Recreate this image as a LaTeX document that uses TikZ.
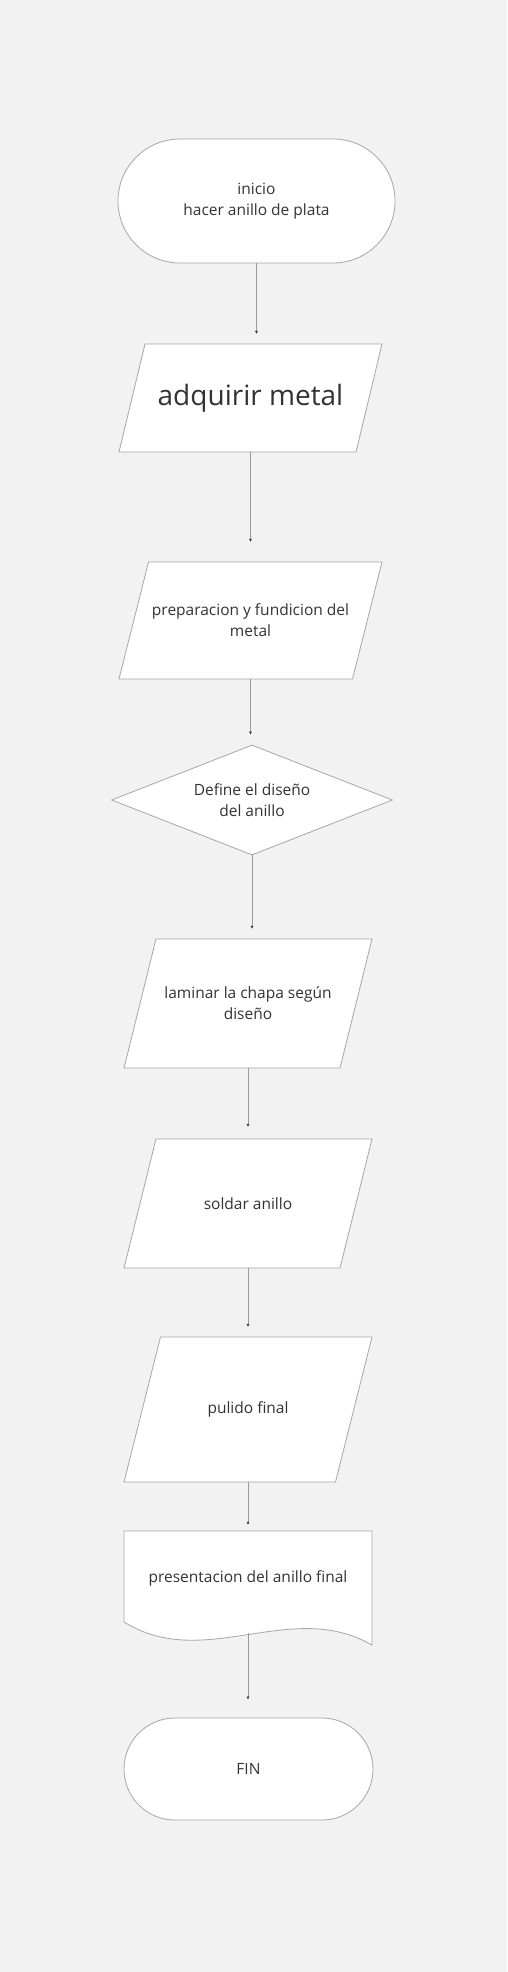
\documentclass[tikz,border=0pt]{standalone}
\usepackage{fontspec}
\setmainfont{Open Sans}
\usepackage{tikz}
\usetikzlibrary{shapes,arrows.meta}
\definecolor{fondo}{HTML}{F2F2F2}
\definecolor{borde}{HTML}{A6A6A6}
\definecolor{texto}{HTML}{333333}
\definecolor{linea}{HTML}{9A9A9A}
% centro x, centro y, ancho total, alto, desplazamiento
\newcommand{\paralelogramo}[5]{\draw[caja] ({#1-#3/2+#5},{#2-#4/2}) -- ({#1+#3/2},{#2-#4/2}) -- ({#1+#3/2-#5},{#2+#4/2}) -- ({#1-#3/2},{#2+#4/2}) -- cycle;}

\begin{document}
\begin{tikzpicture}[x=1pt,y=-1pt]
\tikzstyle{caja}=[draw=borde,fill=white,line width=0.8pt]
\tikzstyle{base}=[text=texto,align=center,inner sep=2pt,font=\fontsize{15.5}{21}\selectfont]
\tikzstyle{terminal}=[base,caja,rectangle]
\tikzstyle{proceso}=[base,rectangle]
\tikzstyle{decision}=[base,caja,diamond,aspect=2.55]
\tikzstyle{flecha}=[draw=linea,line width=0.7pt,-{Latex[length=3pt,width=3pt,color=texto]},shorten >=10pt]
\fill[fondo] (0,0) rectangle (507,1972);
\useasboundingbox (0,0) rectangle (507,1972);

\node[terminal,minimum width=277pt,minimum height=124pt,rounded corners=62pt] (inicio) at (256.5,201) {inicio\\hacer anillo de plata};

\paralelogramo{250.5}{398}{263}{108}{26}
\node[proceso,minimum width=237pt,minimum height=108pt,font=\fontsize{28}{34}\selectfont] (metal) at (250.5,398) {adquirir metal};

\paralelogramo{250.5}{620.5}{263}{117}{29.5}
\node[proceso,minimum width=233pt,minimum height=117pt] (fundicion) at (250.5,620.5) {preparacion y fundicion del\\metal};

\node[decision,minimum width=281pt,minimum height=110pt] (diseno) at (252,800) {Define el diseño\\del anillo};

\paralelogramo{248}{1003.5}{248}{129}{32}
\node[proceso,minimum width=216pt,minimum height=129pt] (laminar) at (248,1003.5) {laminar la chapa según\\diseño};

\paralelogramo{248}{1203.5}{248}{129}{32}
\node[proceso,minimum width=216pt,minimum height=129pt] (soldar) at (248,1203.5) {soldar anillo};

\paralelogramo{248}{1409.5}{248}{145}{36.5}
\node[proceso,minimum width=211pt,minimum height=145pt] (pulido) at (248,1409.5) {pulido final};

% documento
\draw[caja] (124,1531) -- (372,1531) -- (372,1645) .. controls (290,1598) and (205,1672) .. (124,1622) -- cycle;
\node[proceso,minimum width=248pt,minimum height=94pt] (presentacion) at (248,1578) {presentacion del anillo final};
\coordinate (presentacion-sal) at (248,1633);

\node[terminal,minimum width=249pt,minimum height=102pt,rounded corners=51pt] (fin) at (248.5,1769) {FIN};

\draw[flecha] (inicio.south) -- (inicio.south |- metal.north);
\draw[flecha,shorten >=20pt] (metal.south) -- (metal.south |- fundicion.north);
\draw[flecha] (fundicion.south) -- (fundicion.south |- diseno.north);
\draw[flecha] (diseno.south) -- (diseno.south |- laminar.north);
\draw[flecha,shorten >=12pt] (laminar.south) -- (laminar.south |- soldar.north);
\draw[flecha] (soldar.south) -- (soldar.south |- pulido.north);
\draw[flecha,shorten >=6pt] (pulido.south) -- (pulido.south |- presentacion.north);
\draw[flecha,shorten >=18pt] (presentacion-sal) -- (presentacion-sal |- fin.north);
\end{tikzpicture}
\end{document}
